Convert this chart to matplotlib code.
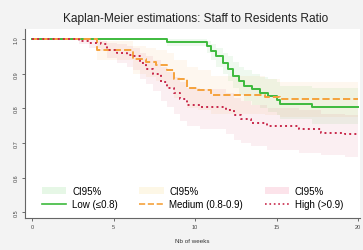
import matplotlib.pyplot as plt
from matplotlib.patches import Patch
from matplotlib.lines import Line2D

plt.rcParams['font.family'] = ['Liberation Sans', 'DejaVu Sans']

# Low (<=0.8)
low_t = [0, 8.3, 10.7, 11.0, 11.3, 11.7, 12.0, 12.3, 12.7, 13.0, 13.5, 14.0, 14.5, 15.0, 15.2, 17.2, 20]
low_s = [1.0, 0.993, 0.98, 0.965, 0.95, 0.93, 0.915, 0.895, 0.88, 0.865, 0.855, 0.845, 0.835, 0.825, 0.812, 0.805, 0.805]
low_lo = [1.0, 0.98, 0.96, 0.94, 0.92, 0.90, 0.88, 0.86, 0.84, 0.82, 0.81, 0.80, 0.79, 0.78, 0.77, 0.755, 0.755]
low_hi = [1.0, 1.0, 0.995, 0.985, 0.975, 0.96, 0.95, 0.935, 0.92, 0.91, 0.90, 0.89, 0.885, 0.875, 0.865, 0.86, 0.86]

# Medium (0.8-0.9)
med_t = [0, 4.0, 6.2, 7.0, 7.6, 8.3, 8.7, 9.5, 10.2, 11.0, 14.3, 15.2, 20]
med_s = [1.0, 0.97, 0.942, 0.935, 0.925, 0.91, 0.885, 0.86, 0.853, 0.84, 0.832, 0.826, 0.826]
med_lo = [1.0, 0.94, 0.90, 0.89, 0.88, 0.86, 0.83, 0.80, 0.795, 0.785, 0.78, 0.775, 0.775]
med_hi = [1.0, 0.995, 0.98, 0.975, 0.97, 0.96, 0.94, 0.92, 0.91, 0.895, 0.885, 0.875, 0.875]

# High (>0.9)
high_t = [0, 2.9, 3.5, 4.2, 4.6, 5.2, 5.8, 6.2, 6.6, 7.0, 7.4, 7.9, 8.3, 8.7, 9.1, 9.5, 10.3,
          11.9, 12.4, 12.8, 13.4, 14.4, 16.4, 17.7, 19.2, 20]
high_s = [1.0, 0.995, 0.99, 0.985, 0.97, 0.96, 0.955, 0.95, 0.93, 0.915, 0.9, 0.875, 0.86, 0.845, 0.826, 0.81, 0.805,
          0.795, 0.78, 0.77, 0.758, 0.75, 0.74, 0.73, 0.725, 0.725]
high_lo = [1.0, 0.985, 0.975, 0.965, 0.945, 0.93, 0.92, 0.91, 0.885, 0.87, 0.85, 0.82, 0.805, 0.785, 0.765, 0.75, 0.74,
           0.725, 0.71, 0.70, 0.69, 0.68, 0.67, 0.665, 0.66, 0.66]
high_hi = [1.0, 1.0, 1.0, 0.995, 0.99, 0.985, 0.98, 0.975, 0.96, 0.95, 0.94, 0.92, 0.905, 0.89, 0.875, 0.86, 0.855,
           0.845, 0.83, 0.82, 0.81, 0.80, 0.795, 0.785, 0.78, 0.78]

x_ticks = [0, 5, 10, 15, 20]
y_ticks = [0.5, 0.6, 0.7, 0.8, 0.9, 1.0]

groups = [
    ("Low (≤0.8)", low_t, low_s, low_lo, low_hi, "#3dba3d", "-", "#e6f7e6", 0.08),
    ("Medium (0.8-0.9)", med_t, med_s, med_lo, med_hi, "#f5a23c", "--", "#fdf7e6", 0.08),
    ("High (>0.9)", high_t, high_s, high_lo, high_hi, "#c8284a", ":", "#fce3ea", 0.07),
]

fig = plt.figure(figsize=(3.63, 2.51), dpi=100, facecolor="#f3f3f3")
ax = fig.add_axes([0.069, 0.127, 0.923, 0.753])
ax.set_facecolor("white")

handles = []
for name, t, s, lo, hi, col, ls, fillcol, a in groups:
    ax.fill_between(t, lo, hi, step="post", color=col, alpha=a, linewidth=0)
for name, t, s, lo, hi, col, ls, fillcol, a in groups:
    ax.plot(t, s, drawstyle="steps-post", color=col, linestyle=ls, linewidth=1.4)
    handles.append(Patch(facecolor=fillcol, edgecolor="none"))
    handles.append(Line2D([], [], color=col, linestyle=ls, linewidth=1.2))

labels = ["CI95%", "Low (≤0.8)", "CI95%", "Medium (0.8-0.9)", "CI95%", "High (>0.9)"]
ax.legend(handles, labels, ncol=3, loc="lower center", bbox_to_anchor=(0.5, 0.0),
          frameon=False, fontsize=7, handlelength=2.5, columnspacing=2.2,
          handletextpad=0.6, labelspacing=0.35)

ax.set_xlim(-0.43, 20.12)
ax.set_ylim(0.483, 1.029)
ax.set_xticks(x_ticks)
ax.set_yticks(y_ticks)
ax.set_xticklabels([str(v) for v in x_ticks], fontsize=4, color="#444444")
ax.set_yticklabels([f"{v:.1f}" for v in y_ticks], fontsize=4, rotation=90, va="center", color="#444444")
ax.tick_params(length=2.5, width=0.6, color="#555555", pad=2)
for side in ["top", "right"]:
    ax.spines[side].set_visible(False)
for side in ["left", "bottom"]:
    ax.spines[side].set_linewidth(0.8)
    ax.spines[side].set_color("#666666")

ax.set_xlabel("Nb of weeks", fontsize=4.5, color="#333333", labelpad=6)
fig.text(0.54, 0.925, "Kaplan-Meier estimations: Staff to Residents Ratio", ha="center", va="center",
         fontsize=8.6, color="#222222")

fig.savefig("out.png", dpi=100, facecolor=fig.get_facecolor())
